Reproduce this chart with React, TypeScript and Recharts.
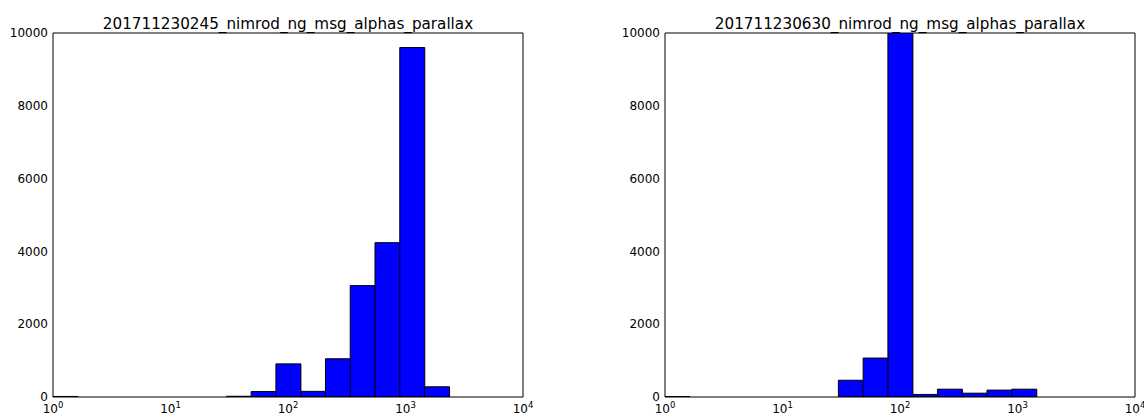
import React from 'react';
import { BarChart, Bar, XAxis, YAxis } from 'recharts';

// histogram bin edges, in log10 units (16 equal log bins)
const BIN_EDGES = [
  0, 0.2108, 0.4216, 0.6324, 0.8432, 1.054, 1.2648, 1.4756, 1.6864, 1.8972, 2.108, 2.3188, 2.5296, 2.7404,
  2.9512, 3.162, 3.3728,
];

const COUNTS_0245 = [15, 0, 0, 0, 0, 0, 0, 20, 150, 910, 155, 1050, 3060, 4240, 9600, 280];
const COUNTS_0630 = [10, 0, 0, 0, 0, 0, 0, 460, 1070, 10400, 70, 215, 105, 190, 215, 0];

const TITLES = ['201711230245_nimrod_ng_msg_alphas_parallax', '201711230630_nimrod_ng_msg_alphas_parallax'];

const X_TICKS = [0, 1, 2, 3, 4];
const MINOR_TICKS = [0, 1, 2, 3].flatMap(d => [2, 3, 4, 5, 6, 7, 8, 9].map(k => d + Math.log10(k)));
const Y_TICKS = [0, 2000, 4000, 6000, 8000, 10000];

const FONT = "'DejaVu Sans', sans-serif";
const W = 572;
const H = 415;

function PowerTick(props: any) {
  const { x, y, payload } = props;
  return (
    <text x={x} y={y + 16} textAnchor="middle" fontSize={12} fontFamily={FONT} fill="#000">
      10
      <tspan dy={-5} fontSize={8.5}>
        {payload.value}
      </tspan>
    </text>
  );
}

interface HistProps {
  title: string;
  counts: number[];
  left: number;
  marginLeft: number;
  marginRight: number;
}

function Hist({ title, counts, left, marginLeft, marginRight }: HistProps) {
  const data = counts.map((c, i) => ({ x: (BIN_EDGES[i] + BIN_EDGES[i + 1]) / 2, count: c }));
  const plotLeft = marginLeft + 53;
  const plotRight = W - marginRight;
  const line = { stroke: '#000' };

  return (
    <div style={{ position: 'absolute', left, top: 0, width: W, height: H }}>
      <div
        style={{
          position: 'absolute',
          top: 15,
          left: plotLeft,
          width: plotRight - plotLeft,
          textAlign: 'center',
          fontFamily: FONT,
          fontSize: 15.2,
          whiteSpace: 'nowrap',
          color: '#000',
        }}
      >
        {title}
      </div>
      <BarChart
        width={W}
        height={H}
        data={data}
        barCategoryGap={0}
        barGap={0}
        margin={{ top: 33, right: marginRight, left: marginLeft, bottom: 0 }}
      >
        <XAxis
          xAxisId="x"
          dataKey="x"
          type="number"
          domain={[0, 4]}
          ticks={X_TICKS}
          interval={0}
          height={18}
          tickSize={0}
          tickMargin={0}
          tickLine={false}
          axisLine={line}
          tick={PowerTick}
        />
        <XAxis xAxisId="topMajor" orientation="top" mirror type="number" domain={[0, 4]} ticks={X_TICKS} interval={0}
          height={1} tick={false} tickSize={4.5} tickLine={line} axisLine={line} />
        <XAxis xAxisId="topMinor" orientation="top" mirror type="number" domain={[0, 4]} ticks={MINOR_TICKS} interval={0}
          height={1} tick={false} tickSize={1.5} tickLine={line} axisLine={false} />
        <XAxis xAxisId="botMajor" orientation="bottom" mirror type="number" domain={[0, 4]} ticks={X_TICKS} interval={0}
          height={1} tick={false} tickSize={4.5} tickLine={line} axisLine={false} />
        <XAxis xAxisId="botMinor" orientation="bottom" mirror type="number" domain={[0, 4]} ticks={MINOR_TICKS} interval={0}
          height={1} tick={false} tickSize={1.5} tickLine={line} axisLine={false} />
        <YAxis
          yAxisId="y"
          type="number"
          domain={[0, 10000]}
          allowDataOverflow
          ticks={Y_TICKS}
          interval={0}
          width={53}
          tickSize={0}
          tickMargin={5}
          tickLine={false}
          axisLine={line}
          tick={{ fontSize: 12, fill: '#000', fontFamily: FONT }}
        />
        <YAxis yAxisId="leftTicks" orientation="left" mirror type="number" domain={[0, 10000]} ticks={Y_TICKS} interval={0}
          width={1} tick={false} tickSize={4.5} tickLine={line} axisLine={false} />
        <YAxis yAxisId="rightTicks" orientation="right" mirror type="number" domain={[0, 10000]} ticks={Y_TICKS} interval={0}
          width={1} tick={false} tickSize={4.5} tickLine={line} axisLine={line} />
        <Bar xAxisId="x" yAxisId="y" dataKey="count" fill="#0000ff" stroke="#000" strokeWidth={1} isAnimationActive={false} />
      </BarChart>
    </div>
  );
}

export default function App() {
  return (
    <div style={{ position: 'relative', width: 1144, height: 415, background: '#fff', overflow: 'hidden' }}>
      <style>{'body{margin:0}'}</style>
      <Hist title={TITLES[0]} counts={COUNTS_0245} left={0} marginLeft={0} marginRight={49} />
      <Hist title={TITLES[1]} counts={COUNTS_0630} left={572} marginLeft={40} marginRight={9} />
    </div>
  );
}
